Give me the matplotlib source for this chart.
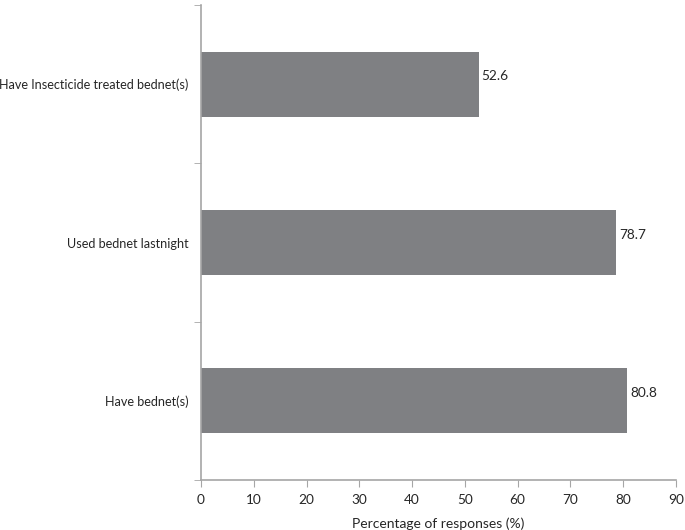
import numpy as np
import matplotlib.pyplot as plt

categories = ['Have bednet(s)', 'Used bednet lastnight', 'Have Insecticide treated bednet(s)']
values = [80.8, 78.7, 52.6]
xticks = [0, 10, 20, 30, 40, 50, 60, 70, 80, 90]

plt.rcParams['font.family'] = ['Lato', 'DejaVu Sans']
spine_col = '#a6a6a6'
text_col = '#262626'

fig = plt.figure(figsize=(6.85, 5.3), dpi=100)
ax = fig.add_axes([0.2934, 0.0943, 0.6934, 0.8963])

y = np.arange(len(categories))
bars = ax.barh(y, values, height=0.41, color='#7f8083')
for yi, v in zip(y, values):
    ax.text(v + 0.6, yi + 0.05, f'{v:.1f}', va='center', ha='left', fontsize=9.8, color=text_col)

ax.set_xlim(0, 90)
ax.set_ylim(-0.5, len(categories) - 0.5)
ax.set_xticks(xticks)
ax.set_yticks(y)
ax.set_yticklabels(categories)
ax.set_yticks(np.arange(-0.5, len(categories)), minor=True)
ax.tick_params(axis='y', which='major', length=0, pad=9, labelsize=9.1, labelcolor=text_col)
ax.tick_params(axis='y', which='minor', length=5, color=spine_col, direction='out')
ax.tick_params(axis='x', length=5, color=spine_col, direction='out', labelsize=9.8, labelcolor=text_col, pad=5)
ax.set_xlabel('Percentage of responses (%)', fontsize=10, color=text_col, labelpad=8)

for s in ['top', 'right']:
    ax.spines[s].set_visible(False)
for s in ['left', 'bottom']:
    ax.spines[s].set_color(spine_col)
    ax.spines[s].set_linewidth(1.2)

fig.savefig('out.png', dpi=100)
